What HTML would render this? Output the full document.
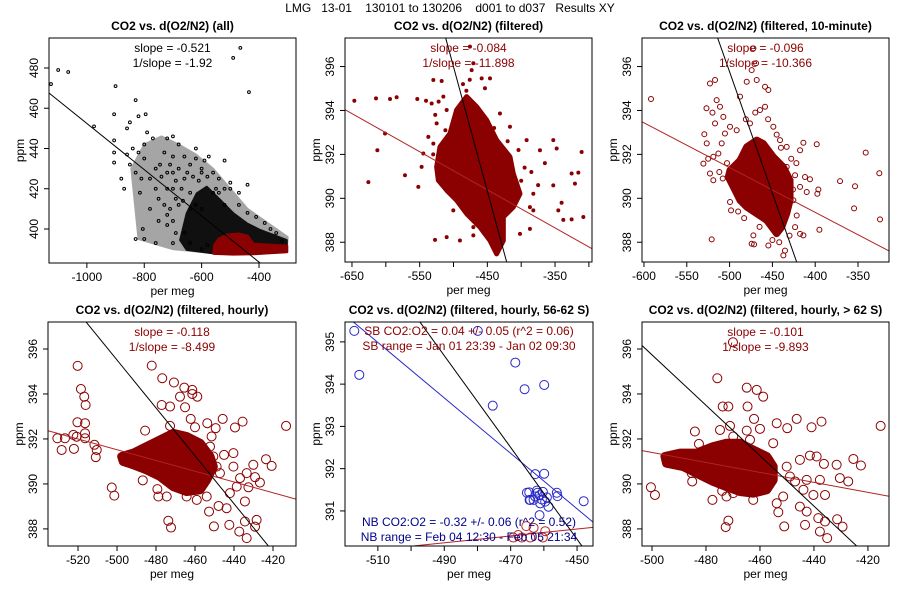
<!DOCTYPE html>
<html><head><meta charset="utf-8"><style>
html,body{margin:0;padding:0;background:#fff;width:900px;height:600px;overflow:hidden}
svg{display:block;font-family:"Liberation Sans",sans-serif}
</style></head><body>
<svg id="chart" width="900" height="600" viewBox="0 0 900 600">
<rect width="900" height="600" fill="#fff"/>
<text x="450" y="12" font-size="12" text-anchor="middle" xml:space="preserve">LMG   13-01    130101 to 130206    d001 to d037   Results XY</text>
</svg>
<script>
// ---------- Panel 1: all ----------
const p1BlackMid = [[-820,395],[-845,430],[-800,442],[-740,446],[-680,442],[-620,437],[-560,430],[-500,420],[-440,410],[-380,404],[-300,396],[-303,390],[-560,388],[-700,390]];
const p1BlackCore = [[-675,394.5],[-652,407.8],[-617,417.7],[-582,421],[-535,414.4],[-489,407.8],[-442,402.8],[-396,399.5],[-303,394.5],[-303,390.4],[-396,390.4],[-559,387.9],[-652,389.6]];
const p1Black = [[-1125,472],[-1100,479],[-1065,478],[-975,451],[-900,471],[-830,464],[-905,457],[-905,444],[-905,438],[-905,433],[-795,457],[-820,456],[-850,453],[-860,450],[-770,445],[-790,448],[-720,445],[-680,442],[-700,446],[-490,485],[-465,490],[-435,468],[-520,434],[-440,422],[-470,418],[-500,423],[-830,395],[-805,400],[-800,395],[-760,393],[-750,404],[-720,402],[-690,398],[-700,393],[-640,393],[-600,390],[-580,392],[-815,418],[-780,425],[-850,432],[-840,440],[-820,438],[-800,442],[-760,430],[-740,426],[-720,420],[-700,428],[-680,430],[-660,425],[-640,432],[-620,435],[-600,430],[-560,428],[-540,425],[-590,434],[-575,436],[-620,440],[-700,436],[-750,415],[-730,412],[-710,410],[-690,415],[-780,410],[-600,410],[-520,412],[-500,420],[-470,412],[-440,408],[-410,406],[-380,403],[-360,400],[-340,398],[-320,394],[-800,435],[-830,428],[-860,437],[-880,425],[-870,420],[-810,425],[-730,438],[-710,432],[-690,424],[-670,420],[-660,436],[-650,428],[-640,418],[-630,426],[-610,424],[-720,428],[-700,420],[-760,420],[-745,432],[-680,412],[-665,414],[-700,404],[-720,407],[-660,398],[-560,418],[-550,420],[-540,418],[-520,420],[-600,428],[-580,426],[-620,412],[-640,410]];
const p1RedCore = [[-555,392],[-540,395],[-512,397],[-470,397.5],[-440,396.5],[-420,392.5],[-360,392],[-303,391.5],[-303,388.7],[-420,387.7],[-490,387.5],[-558,387.9]];
const p1Line = [-0.1148, 337.64];

// ---------- Panel 2: filtered ----------
const p2Core = [[-524.9,391.43],[-520,392.34],[-505.2,392.95],[-495.4,394.02],[-480.6,394.63],[-465.8,394.17],[-451,393.56],[-436.3,392.65],[-416.6,391.89],[-411.7,391.13],[-401.8,390.21],[-411.7,389.6],[-426.4,389.15],[-426.4,388.08],[-436.3,387.47],[-446.1,388.08],[-460.9,388.69],[-480.6,389.3],[-495.4,389.91],[-510.1,390.37],[-522.4,390.82]];
const p2Pts = [[-646.5,394.44],[-614.5,394.55],[-593.8,394.52],[-584,394.6],[-553.5,394.52],[-540.6,394.44],[-532.3,394.32],[-601.2,392.95],[-612.5,392.19],[-625.8,390.74],[-571.7,391.05],[-552,390.52],[-547.1,391.43],[-544.6,392.04],[-537.2,392.8],[-529.8,395.39],[-517.5,395.34],[-524.9,393.41],[-510.1,394.02],[-515,394.63],[-473.2,395.84],[-470.7,396.15],[-475.7,396.91],[-458.4,395.46],[-446.1,395.46],[-453.5,395.01],[-431.4,393.86],[-416.6,393.26],[-392,392.65],[-372.3,392.19],[-352.6,392.65],[-347.6,392.27],[-310.7,392.11],[-325.5,391.13],[-315.6,391.17],[-320.6,390.67],[-352.6,390.59],[-382.1,390.21],[-340.3,389.8],[-345.2,389.45],[-337.8,389.02],[-325.5,389.04],[-308.2,389.15],[-382.1,389.45],[-387.1,388.61],[-401.8,388.38],[-470.7,388.69],[-470.7,388.31],[-510.1,388.23],[-527.3,388.11],[-490.5,388.08],[-387.1,389.6],[-406.8,389.91],[-500.3,389.45],[-529.8,392.49],[-527,393.8],[-522,394.4],[-512,393.1],[-530,392],[-506,392.6],[-395,391.4],[-400,390.8],[-385,391.2],[-375,390.6],[-365,391.6],[-404,392.2],[-420,392.6],[-440,393.2],[-486,395.2],[-481,394.9],[-476,395.4]];
const p2Black = [-0.1132, 339.39];
const p2Red = [-0.01735, 382.58];

// ---------- Panel 3: filtered, 10-minute ----------
const p3Core = [[-499.5,391.28],[-487.8,391.73],[-480,392.34],[-468.3,392.65],[-460.6,392.49],[-448.9,391.89],[-437.2,391.43],[-429.4,390.82],[-429.4,389.91],[-433.3,389.3],[-439.1,388.69],[-445,388.39],[-456.7,389],[-468.3,389.3],[-480,389.6],[-487.8,389.91],[-495.6,390.52],[-501.5,390.97]];
const p3Pts = [[-591.8,394.52],[-529.5,392.92],[-526.7,392.5],[-530.6,391.58],[-522.9,391.13],[-519,391.89],[-522.9,395.23],[-517,395.39],[-515.1,394.47],[-511.2,394.17],[-507.3,393.71],[-517,393.41],[-509.2,392.5],[-513.1,392.04],[-505.4,392.95],[-519,390.82],[-520.9,388.13],[-499.5,393.26],[-491.7,393.1],[-487.8,394.63],[-480,395.31],[-474.2,395.84],[-468.3,395.39],[-472.2,396.83],[-469.1,396.15],[-458.6,395.08],[-454.7,394.93],[-464.5,394.02],[-476.2,393.41],[-448.9,393.26],[-441.1,392.65],[-433.3,392.34],[-413.8,392.53],[-398.2,392.46],[-417.7,392.19],[-423.5,391.05],[-411.9,390.97],[-406.1,390.87],[-396.3,390.4],[-397.5,390.21],[-409.9,390.29],[-417.7,390.52],[-371,390.78],[-353.5,390.55],[-341,392.08],[-325.1,391.14],[-324.3,389.04],[-354.6,389.54],[-395.1,388.57],[-417.7,388.38],[-423.5,388.69],[-413.8,388.31],[-435.3,387.62],[-437.2,387.4],[-454.7,387.85],[-472.2,388.31],[-471.4,387.9],[-474.2,387.93],[-499.5,389.83],[-498.3,389.45],[-489.7,390.37],[-421.6,389.22],[-425.5,389.91],[-433.3,391.43],[-458.6,394.17],[-525,391.8],[-512,391.2],[-508,390.9],[-503,391.6],[-520,393.9],[-527,394.1],[-481,393.6],[-470,393.9],[-455,393.6],[-445,392.9],[-440,392.3],[-428,391.8],[-422,391.6],[-426,390.4],[-490,389.4],[-483,389.1],[-465,388.7],[-450,388.1],[-442,388],[-430,388.3]];
const p3Black = [-0.1105, 340.51];
const p3Red = [-0.02038, 381.21];

// ---------- Panel 4: filtered, hourly ----------
const p4Core = [[-497.6,391.22],[-491.6,391.37],[-484.8,391.66],[-477.9,391.96],[-471.1,392.25],[-464.3,392.11],[-457.4,391.81],[-452.3,391.22],[-450.6,390.77],[-454,390.18],[-457.4,389.74],[-464.3,389.66],[-471.1,389.88],[-477.9,390.33],[-484.8,390.62],[-491.6,390.85],[-496.8,391]];
const p4Pts = [[-530.6,392.03],[-528.4,391.51],[-526.7,392.03],[-522.4,392.18],[-522.1,391.56],[-520.2,395.25],[-518.5,394.22],[-516.8,393.88],[-516.1,393.51],[-520.3,392.74],[-516.4,392.7],[-520.7,392.1],[-516.4,392.25],[-516.4,392.03],[-511.6,391.74],[-510.4,391.51],[-510.9,391.19],[-502.7,389.84],[-501.4,389.48],[-482.2,395.26],[-476.8,394.7],[-470.8,394.51],[-477.1,393.51],[-472.8,393.44],[-465.1,393.41],[-467.7,393.88],[-465.5,394.28],[-461.4,394.18],[-461.4,394],[-458.8,393.88],[-462.2,392.89],[-460,392.52],[-472.8,392.58],[-485.6,392.37],[-453.7,392.7],[-451.5,392.11],[-445.8,392.89],[-449.4,392.48],[-439.5,392.51],[-435.6,392.77],[-423.6,391.1],[-420.7,390.8],[-413.3,392.58],[-430.1,390.85],[-429.2,390.3],[-436.9,390.26],[-438.6,389.88],[-442.1,389.59],[-432.6,389.85],[-434.4,389.22],[-426.7,390.06],[-434.4,388.33],[-437.3,387.88],[-433.5,387.59],[-429.2,388.1],[-428.4,388.4],[-442.4,388.18],[-450.3,388.11],[-452.8,388.77],[-447.9,389.02],[-443.8,388.92],[-473.7,388.36],[-472.3,388.06],[-479.3,389.77],[-478.8,389.44],[-474.5,389.44],[-486.8,390.16],[-479.7,391.81],[-472.8,391.81],[-464.3,391.59],[-457.4,391.37],[-452.3,391.66],[-448.9,390.77],[-447.2,390.48],[-454,389.44],[-459.1,389.29],[-464.3,389.44],[-440.3,390.77],[-433.5,390.48],[-440.3,391.37],[-445.1,391.29],[-450.6,391.22]];
const p4Black = [-0.1065, 342.26];
const p4Red = [-0.0239, 379.57];

// ---------- Panel 5: hourly, 56-62 S ----------
const p5Blue = [[-517.1,395.26],[-515.6,394.22],[-479.9,395.26],[-468.6,394.51],[-465.8,393.88],[-459.9,393.98],[-475.4,393.49],[-462.6,391.87],[-459.9,391.88],[-464.4,391.44],[-464.3,391.26],[-462.1,391.48],[-461.3,391.37],[-462.6,391.34],[-460.6,391.27],[-459.6,391.22],[-459.1,391.32],[-461.1,391.18],[-458.6,391.1],[-461.3,390.9],[-456.1,391.43],[-455.9,391.35],[-448,391.23],[-463.1,391.26],[-461.9,391.43],[-460.3,391.45],[-464.1,391.26],[-465.1,391.43]];
const p5Red = [[-465.3,390.64],[-463.1,390.6],[-459.6,390.52],[-469.2,390.37],[-466.6,390.37],[-464.1,390.37],[-460.3,390.37],[-467.7,390.43]];
const p5BlackLine = [-0.1086, 341.46];
const p5BlueLine = [-0.0656, 361.53];
const p5RedLine = [0.00813, 394.23];

// ---------- Panel 6: hourly, > 62 S ----------
const p6Core = [[-495.2,391.22],[-489.6,391.37],[-483.5,391.37],[-477.3,391.66],[-472.4,391.81],[-467.4,391.81],[-462.5,391.51],[-457.5,391.22],[-455.1,390.77],[-455.1,390.18],[-457.5,389.74],[-462.5,389.59],[-467.4,389.66],[-472.4,389.88],[-477.3,390.11],[-482.2,390.4],[-488.4,390.77],[-494.6,390.92]];
const p6Pts = [[-500.4,389.85],[-498.9,389.51],[-484.1,392.33],[-482.6,391.78],[-485.3,390.48],[-475.8,394.7],[-473.8,393.44],[-471.7,393.44],[-474.8,392.4],[-471.1,392.58],[-464.9,394.28],[-461.2,394.18],[-458.8,393.88],[-464.6,393.44],[-462.2,392.89],[-460,392.45],[-464.9,392.37],[-453.8,392.7],[-449.9,392.48],[-446.4,392.89],[-437.2,392.77],[-440.9,392.52],[-415.3,392.58],[-425.4,391.11],[-422.6,390.82],[-431.6,390.85],[-427.3,390.11],[-430.4,390.26],[-436.3,390.89],[-439,391.22],[-441.5,391.26],[-445.2,391.07],[-450.1,390.77],[-448.9,390.33],[-447,390.11],[-442.7,390.18],[-437.8,390.18],[-443.9,389.74],[-440.2,389.51],[-435.9,389.51],[-451.4,389.44],[-453.8,389.14],[-445.2,388.99],[-442.7,388.77],[-438.4,388.48],[-435.9,388.33],[-437.8,387.88],[-435.1,387.59],[-431.4,388.43],[-429.4,388.1],[-443.3,388.18],[-451,388.11],[-453.2,388.74],[-471.7,388.37],[-472.7,388.08],[-474,389.69],[-472.4,389.44],[-469.9,389.59],[-477.6,389.29],[-485.1,390.11],[-462.5,389.29],[-457.5,390.18],[-456.9,391.07],[-455.1,391.81],[-463.7,391.96],[-469.9,392.11],[-470,396.3]];
const p6Black = [-0.1121, 339.69];
const p6Red = [-0.0222, 380.3];

const NS = 'http://www.w3.org/2000/svg';
const svg = document.getElementById('chart');
const RED = '#8b0000', BLUE = '#2828c8', NAVY = '#00008b';
function mk(tag, attrs, parent) {
  const e = document.createElementNS(NS, tag);
  for (const k in attrs) e.setAttribute(k, attrs[k]);
  (parent || svg).appendChild(e);
  return e;
}
function panel(cfg) {
  const g = mk('g', {});
  
  
  const sx = v => cfg.L + (v - cfg.x0) / (cfg.x1 - cfg.x0) * (cfg.R - cfg.L);
  const sy = v => cfg.B - (v - cfg.y0) / (cfg.y1 - cfg.y0) * (cfg.B - cfg.T);
  const clipId = 'clip-' + cfg.name;
  const cp = mk('clipPath', {id: clipId}, g);
  mk('rect', {x: cfg.L, y: cfg.T, width: cfg.R - cfg.L, height: cfg.B - cfg.T}, cp);
  const plot = mk('g', {'clip-path': 'url(#' + clipId + ')'}, g);
  
  
  cfg.draw(plot, sx, sy);
  const fr = mk('rect', {x: cfg.L, y: cfg.T, width: cfg.R - cfg.L, height: cfg.B - cfg.T, fill: 'none', stroke: '#000', 'stroke-width': 1}, g);
  
  
  cfg.xt.forEach(v => {
    const x = sx(v);
    mk('line', {x1: x, x2: x, y1: cfg.B, y2: cfg.B + 5, stroke: '#000'}, g);
    if (cfg.xl.includes(v)) {
      const t = mk('text', {x: x, y: cfg.B + 18, 'font-size': 12, 'text-anchor': 'middle'}, g);
      t.textContent = v;
      
      
    }
  });
  cfg.yt.forEach(v => {
    const y = sy(v);
    mk('line', {x1: cfg.L - 5, x2: cfg.L, y1: y, y2: y, stroke: '#000'}, g);
    const tx = cfg.L - 11;
    const t = mk('text', {x: tx, y: y, 'font-size': 12, 'text-anchor': 'middle', transform: 'rotate(-90 ' + tx + ' ' + y + ')'}, g);
    t.textContent = v;
    
    
  });
  const cx = (cfg.L + cfg.R) / 2;
  const tt = mk('text', {x: cx, y: cfg.T - 8, 'font-size': 12, 'font-weight': 'bold', 'text-anchor': 'middle'}, g);
  tt.textContent = cfg.title;
  
  
  const xa = mk('text', {x: cx, y: cfg.B + 32, 'font-size': 12, 'text-anchor': 'middle'}, g);
  xa.textContent = 'per meg';
  
  
  const ay = (cfg.T + cfg.B) / 2, axx = cfg.L - 25;
  const ya = mk('text', {x: axx, y: ay, 'font-size': 12, 'text-anchor': 'middle', transform: 'rotate(-90 ' + axx + ' ' + ay + ')'}, g);
  ya.textContent = 'ppm';
  
  
  (cfg.notes || []).forEach(n => {
    const t = mk('text', {x: cx, y: n[1], 'font-size': 12, 'text-anchor': 'middle', fill: n[2]}, g);
    t.textContent = n[0];
    
    
  });
}
function poly(p, pts, sx, sy, color, name, sw, op) {
  const e = mk('polygon', {points: pts.map(q => sx(q[0]) + ',' + sy(q[1])).join(' '), fill: color, stroke: color, 'stroke-width': sw || 3, 'stroke-linejoin': 'round', opacity: op || 1}, p);
  
  
}
function dots(p, pts, sx, sy, r, color, filled, name) {
  pts.forEach(q => {
    const c = mk('circle', {cx: sx(q[0]), cy: sy(q[1]), r: r, fill: filled ? color : 'none', stroke: color, 'stroke-width': 1}, p);
    
    
  });
}
function fitLine(p, ln, x0, x1, sx, sy, color, name) {
  const e = mk('line', {x1: sx(x0), y1: sy(ln[0] * x0 + ln[1]), x2: sx(x1), y2: sy(ln[0] * x1 + ln[1]), stroke: color, 'stroke-width': 1}, p);
  
  
}
const rng = (a, b, s) => { const o = []; for (let v = a; v <= b + 1e-9; v += s) o.push(Math.round(v * 100) / 100); return o; };

panel({name: 'panel-all', L: 49, R: 296, T: 38, B: 263, x0: -1132, x1: -271, y0: 383.1, y1: 494.9,
  xt: rng(-1000, -400, 200), xl: rng(-1000, -400, 200), yt: rng(400, 480, 20), title: 'CO2 vs. d(O2/N2) (all)',
  notes: [['slope = -0.521', 52, '#000'], ['1/slope = -1.92', 67, '#000']],
  draw: (p, sx, sy) => {
    poly(p, p1BlackMid, sx, sy, '#000', 'black-point-cloud-sparse', 2, 0.35);
    poly(p, p1BlackCore, sx, sy, '#000', 'black-point-cloud', 2, 0.9);
    dots(p, p1Black, sx, sy, 1.4, '#000', false, 'black-point');
    poly(p, p1RedCore, sx, sy, RED, 'red-point-cloud');
    fitLine(p, p1Line, -1132, -271, sx, sy, '#000', 'fit-line');
  }});
panel({name: 'panel-filtered', L: 345, R: 592, T: 38, B: 262, x0: -660.3, x1: -295.4, y0: 387.1, y1: 397.3,
  xt: rng(-650, -300, 50), xl: [-650, -550, -450, -350], yt: rng(388, 396, 2), title: 'CO2 vs. d(O2/N2) (filtered)',
  notes: [['slope = -0.084', 52, RED], ['1/slope = -11.898', 67, RED]],
  draw: (p, sx, sy) => {
    poly(p, p2Core, sx, sy, RED, 'red-point-cloud', 5);
    dots(p, p2Pts, sx, sy, 1.5, RED, true, 'red-point');
    fitLine(p, p2Red, -660.3, -295.4, sx, sy, '#b22222', 'red-fit-line');
    fitLine(p, p2Black, -520, -410, sx, sy, '#000', 'black-fit-line');
  }});
panel({name: 'panel-10-minute', L: 642, R: 889, T: 38, B: 262, x0: -602.3, x1: -313.8, y0: 387.1, y1: 397.3,
  xt: rng(-600, -350, 50), xl: rng(-600, -350, 50), yt: rng(388, 396, 2), title: 'CO2 vs. d(O2/N2) (filtered, 10-minute)',
  notes: [['slope = -0.096', 52, RED], ['1/slope = -10.366', 67, RED]],
  draw: (p, sx, sy) => {
    poly(p, p3Core, sx, sy, RED, 'red-point-cloud', 7);
    dots(p, p3Pts, sx, sy, 2.5, RED, false, 'red-point');
    fitLine(p, p3Red, -602.3, -313.8, sx, sy, '#b22222', 'red-fit-line');
    fitLine(p, p3Black, -520, -410, sx, sy, '#000', 'black-fit-line');
  }});
panel({name: 'panel-hourly', L: 48, R: 296, T: 322, B: 546, x0: -535.4, x1: -408.2, y0: 387.24, y1: 397.2,
  xt: rng(-520, -420, 20), xl: rng(-520, -420, 20), yt: rng(388, 396, 2), title: 'CO2 vs. d(O2/N2) (filtered, hourly)',
  notes: [['slope = -0.118', 336, RED], ['1/slope = -8.499', 351, RED]],
  draw: (p, sx, sy) => {
    poly(p, p4Core, sx, sy, RED, 'red-point-cloud', 9);
    dots(p, p4Pts, sx, sy, 4.5, RED, false, 'red-point');
    fitLine(p, p4Red, -535.4, -408.2, sx, sy, '#b22222', 'red-fit-line');
    fitLine(p, p4Black, -520, -415, sx, sy, '#000', 'black-fit-line');
  }});
panel({name: 'panel-56-62s', L: 345, R: 593, T: 322, B: 546, x0: -519.9, x1: -445.2, y0: 390.17, y1: 395.47,
  xt: rng(-510, -450, 10), xl: [-510, -490, -470, -450], yt: rng(391, 395, 1), title: 'CO2 vs. d(O2/N2) (filtered, hourly, 56-62 S)',
  notes: [['SB CO2:O2 = 0.04 +/- 0.05 (r^2 = 0.06)', 335, RED], ['SB range = Jan 01 23:39 - Jan 02 09:30', 350, RED], ['NB CO2:O2 = -0.32 +/- 0.06 (r^2 = 0.52)', 526, NAVY], ['NB range = Feb 04 12:30 - Feb 05 21:34', 541, NAVY]],
  draw: (p, sx, sy) => {
    dots(p, p5Blue, sx, sy, 4.5, BLUE, false, 'blue-point');
    dots(p, p5Red, sx, sy, 4.5, '#b22222', false, 'red-point');
    fitLine(p, p5BlueLine, -519.9, -445.2, sx, sy, BLUE, 'blue-fit-line');
    fitLine(p, p5RedLine, -519.9, -445.2, sx, sy, '#b22222', 'red-fit-line');
    fitLine(p, p5BlackLine, -500, -445.2, sx, sy, '#000', 'black-fit-line');
  }});
panel({name: 'panel-above-62s', L: 642, R: 889, T: 322, B: 546, x0: -503.7, x1: -412.2, y0: 387.24, y1: 397.2,
  xt: rng(-500, -420, 20), xl: rng(-500, -420, 20), yt: rng(388, 396, 2), title: 'CO2 vs. d(O2/N2) (filtered, hourly, > 62 S)',
  notes: [['slope = -0.101', 336, RED], ['1/slope = -9.893', 351, RED]],
  draw: (p, sx, sy) => {
    poly(p, p6Core, sx, sy, RED, 'red-point-cloud', 9);
    dots(p, p6Pts, sx, sy, 4.5, RED, false, 'red-point');
    fitLine(p, p6Red, -503.7, -412.2, sx, sy, '#b22222', 'red-fit-line');
    fitLine(p, p6Black, -503.7, -412.2, sx, sy, '#000', 'black-fit-line');
  }});
</script>
</body></html>
